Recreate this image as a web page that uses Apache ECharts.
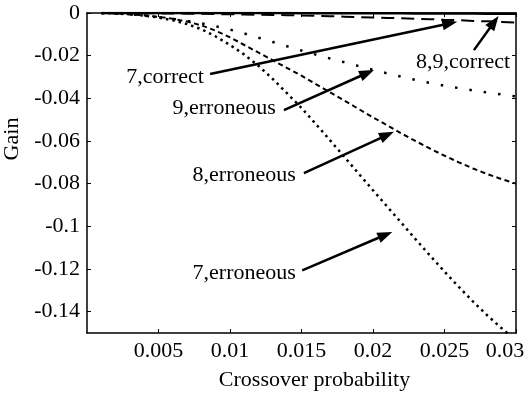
<!DOCTYPE html>
<html>
<head>
<meta charset="utf-8">
<script src="https://cdn.jsdelivr.net/npm/echarts@6/dist/echarts.min.js"></script>
<style>
  html, body { margin: 0; padding: 0; background: #fff; }
  #chart { width: 524px; height: 393px; }
</style>
</head>
<body>
<div id="chart"></div>
<script>
// Crossover probability sample points
const crossover = [0.001, 0.002, 0.003, 0.004, 0.005, 0.006, 0.007, 0.008, 0.009, 0.010,
                   0.011, 0.012, 0.013, 0.014, 0.015, 0.016, 0.017, 0.018, 0.019, 0.020,
                   0.021, 0.022, 0.023, 0.024, 0.025, 0.026, 0.027, 0.028, 0.029, 0.030];

// Gain curves
const gain89Correct = [0, 0, 0, 0, 0, 0, 0, 0, 0, 0,
                       0, 0, 0, 0, -0.0001, -0.0001, -0.0001, -0.0001, -0.0001, -0.0001,
                       -0.0001, -0.0001, -0.0002, -0.0002, -0.0002, -0.0002, -0.0002, -0.0003, -0.0003, -0.0003];
const gain7Correct = [0, 0, -0.0001, -0.0001, -0.0002, -0.0002, -0.0003, -0.0004, -0.0005, -0.0006,
                      -0.0007, -0.0008, -0.0009, -0.0010, -0.0012, -0.0013, -0.0015, -0.0017, -0.0019, -0.0021,
                      -0.0023, -0.0025, -0.0027, -0.0029, -0.0032, -0.0034, -0.0037, -0.0039, -0.0042, -0.0045];
const gain9Erroneous = [-0.0001, -0.0003, -0.0007, -0.0012, -0.0019, -0.0027, -0.0037, -0.0049, -0.0062, -0.0078,
                        -0.0096, -0.0116, -0.0136, -0.0156, -0.0176, -0.0195, -0.0213, -0.0231, -0.0249, -0.0266,
                        -0.0283, -0.0299, -0.0314, -0.0328, -0.0341, -0.0352, -0.0363, -0.0373, -0.0382, -0.0391];
const gain8Erroneous = [0, -0.0002, -0.0006, -0.0011, -0.0018, -0.0027, -0.0040, -0.0058, -0.0083, -0.0114,
                        -0.0150, -0.0186, -0.0222, -0.0258, -0.0294, -0.0333, -0.0372, -0.0411, -0.0450, -0.0489,
                        -0.0527, -0.0565, -0.0601, -0.0636, -0.0669, -0.0700, -0.0729, -0.0755, -0.0779, -0.0800];
const gain7Erroneous = [0, -0.0002, -0.0006, -0.0012, -0.0021, -0.0034, -0.0052, -0.0076, -0.0110, -0.0150,
                        -0.0195, -0.0248, -0.0310, -0.0377, -0.0445, -0.0520, -0.0597, -0.0675, -0.0753, -0.0831,
                        -0.0908, -0.0985, -0.1062, -0.1138, -0.1212, -0.1284, -0.1353, -0.1418, -0.1478, -0.1535];

// Axis ticks and their labels
const xTickValues = [0.005, 0.01, 0.015, 0.02, 0.025, 0.03];
const xTickLabels = ['0.005', '0.01', '0.015', '0.02', '0.025', '0.03'];
const yTickValues = [0, -0.02, -0.04, -0.06, -0.08, -0.1, -0.12, -0.14];
const yTickLabels = ['0', '-0.02', '-0.04', '-0.06', '-0.08', '-0.1', '-0.12', '-0.14'];

// Callout texts, where they sit, and the arrows from each text to its curve
const calloutTexts = ['7,correct', '8,9,correct', '9,erroneous', '8,erroneous', '7,erroneous'];
const calloutAt = [[0.00546, -0.0300], [0.0263, -0.0230], [0.00959, -0.0446], [0.01099, -0.0760], [0.01099, -0.1220]];
const arrowFrom = [[0.00861, -0.0286], [0.02706, -0.0174], [0.01377, -0.0455], [0.01517, -0.0751], [0.01505, -0.1206]];
const arrowTo = [[0.02589, -0.0041], [0.02878, -0.0014], [0.02007, -0.0267], [0.02146, -0.0557], [0.02135, -0.1026]];

const FONT = '"Liberation Serif", "Times New Roman", serif';
const FONT_SIZE = 22;
const pairs = (ys) => crossover.map((x, i) => [x, ys[i]]);
const near = (a, b) => Math.abs(a - b) < 1e-9;

function curve(name, ys, dash, width) {
  return {
    name: name,
    type: 'line',
    data: pairs(ys),
    showSymbol: false,
    symbol: 'none',
    clip: true,
    silent: true,
    lineStyle: { color: '#000', width: width, type: dash, cap: 'butt' }
  };
}

// Straight arrow with a filled triangular head, drawn in data space
function renderArrow(params, api) {
  const a = api.coord([api.value(0), api.value(1)]);
  const b = api.coord([api.value(2), api.value(3)]);
  const dx = b[0] - a[0], dy = b[1] - a[1];
  const len = Math.hypot(dx, dy) || 1;
  const ux = dx / len, uy = dy / len;
  const headLen = 15, headHalf = 5.5;
  const base = [b[0] - ux * headLen, b[1] - uy * headLen];
  return {
    type: 'group',
    children: [
      { type: 'line', shape: { x1: a[0], y1: a[1], x2: base[0] + ux * 2, y2: base[1] + uy * 2 },
        style: { stroke: '#000', lineWidth: 2.5 } },
      { type: 'polygon',
        shape: { points: [b, [base[0] - uy * headHalf, base[1] + ux * headHalf], [base[0] + uy * headHalf, base[1] - ux * headHalf]] },
        style: { fill: '#000', stroke: null } }
    ]
  };
}

const tickFont = { color: '#000', fontFamily: FONT, fontSize: FONT_SIZE };

const chart = echarts.init(document.getElementById('chart'));
chart.setOption({
  animation: false,
  backgroundColor: '#fff',
  textStyle: { fontFamily: FONT },
  grid: { left: 87, right: 8, top: 13, bottom: 60, containLabel: false, outerBoundsMode: 'none' },
  xAxis: [{
    type: 'value', position: 'bottom', min: 0, max: 0.03,
    name: 'Crossover probability', nameLocation: 'middle', nameGap: 36,
    nameTextStyle: { fontFamily: FONT, fontSize: FONT_SIZE, color: '#000', padding: [0, 0, 0, 26] },
    axisLine: { onZero: false, lineStyle: { color: '#000', width: 1.5 } },
    axisTick: { inside: true, length: 4, customValues: xTickValues, lineStyle: { color: '#000' } },
    axisLabel: Object.assign({
      customValues: xTickValues, margin: 7, hideOverlap: false,
      formatter: (v) => {
        const label = xTickLabels[xTickValues.findIndex(t => near(t, v))];
        return near(v, 0.03) ? '{edge|' + label + '}' : label;
      },
      rich: { edge: Object.assign({ padding: [0, 22, 0, 0] }, tickFont) }
    }, tickFont),
    splitLine: { show: false }
  }, {
    type: 'value', position: 'top', min: 0, max: 0.03,
    axisLine: { onZero: false, lineStyle: { color: '#000', width: 1.5 } },
    axisTick: { inside: true, length: 4, customValues: xTickValues, lineStyle: { color: '#000' } },
    axisLabel: { show: false },
    splitLine: { show: false }
  }],
  yAxis: [{
    type: 'value', position: 'left', min: -0.15, max: 0,
    name: 'Gain', nameLocation: 'middle', nameGap: 58, nameRotate: 90,
    nameTextStyle: { fontFamily: FONT, fontSize: FONT_SIZE, color: '#000', padding: [0, 0, 0, 68] },
    axisLine: { onZero: false, lineStyle: { color: '#000', width: 1.5 } },
    axisTick: { inside: true, length: 4, customValues: yTickValues, lineStyle: { color: '#000' } },
    axisLabel: Object.assign({
      customValues: yTickValues, margin: 7,
      formatter: (v) => yTickLabels[yTickValues.findIndex(t => near(t, v))]
    }, tickFont),
    splitLine: { show: false }
  }, {
    type: 'value', position: 'right', min: -0.15, max: 0,
    axisLine: { onZero: false, lineStyle: { color: '#000', width: 1.5 } },
    axisTick: { inside: true, length: 4, customValues: yTickValues, lineStyle: { color: '#000' } },
    axisLabel: { show: false },
    splitLine: { show: false }
  }],
  series: [
    curve('7,erroneous', gain7Erroneous, [2.5, 4], 2.5),
    curve('8,erroneous', gain8Erroneous, [5, 3.5], 2),
    curve('9,erroneous', gain9Erroneous, [2.5, 12], 2.5),
    curve('7,correct', gain7Correct, [13, 7], 2),
    curve('8,9,correct', gain89Correct, 'solid', 2.5),
    {
      name: 'arrows',
      type: 'custom',
      silent: true,
      clip: false,
      renderItem: renderArrow,
      encode: { x: [0, 2], y: [1, 3] },
      data: arrowFrom.map((p, i) => [p[0], p[1], arrowTo[i][0], arrowTo[i][1]])
    },
    {
      name: 'callouts',
      type: 'line',
      data: [],
      silent: true,
      markPoint: {
        silent: true,
        animation: false,
        symbol: 'circle',
        symbolSize: 0,
        label: {
          show: true, position: 'inside', color: '#000',
          fontFamily: FONT, fontSize: FONT_SIZE,
          formatter: (p) => p.name
        },
        data: calloutAt.map((p, i) => ({ name: calloutTexts[i], coord: p }))
      }
    }
  ]
});
</script>
</body>
</html>
